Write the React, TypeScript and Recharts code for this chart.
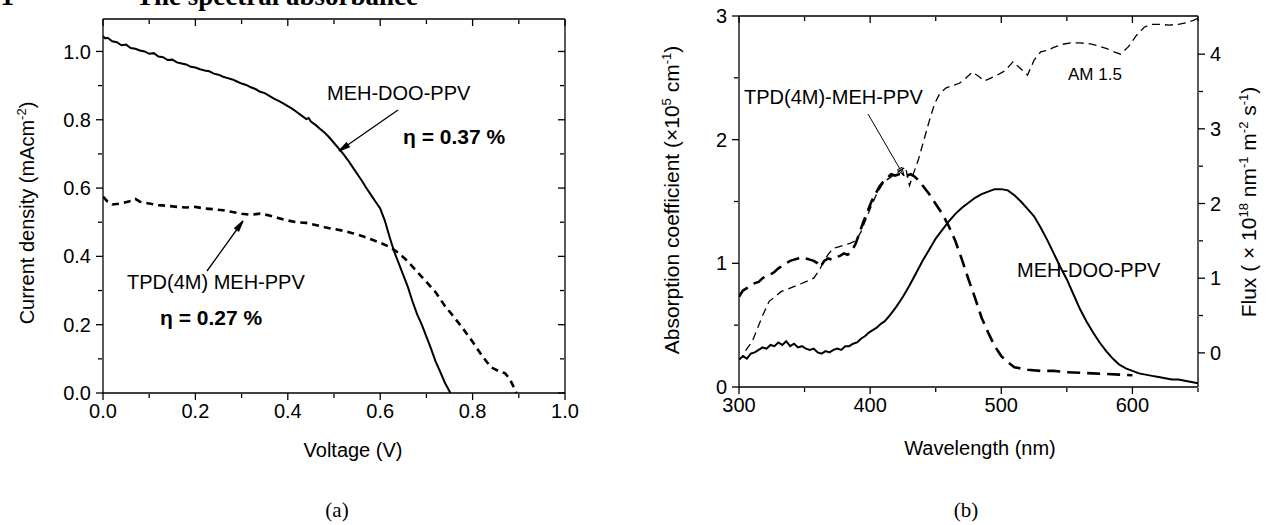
import React from "react"
import { Line, LineChart, XAxis, YAxis } from "recharts"

// (a) J-V curves
const dooVoltage = [0, 0.005, 0.01, 0.02, 0.03, 0.04, 0.05, 0.06, 0.07, 0.08, 0.09, 0.1, 0.11, 0.12, 0.13, 0.14, 0.15, 0.16, 0.17, 0.18, 0.19, 0.2, 0.21, 0.22, 0.23, 0.24, 0.25, 0.26, 0.27, 0.28, 0.29, 0.3, 0.31, 0.32, 0.33, 0.34, 0.35, 0.36, 0.37, 0.38, 0.39, 0.4, 0.41, 0.42, 0.43, 0.44, 0.445, 0.45, 0.46, 0.47, 0.48, 0.49, 0.5, 0.51, 0.52, 0.53, 0.54, 0.55, 0.56, 0.57, 0.58, 0.59, 0.6, 0.61, 0.62, 0.63, 0.64, 0.65, 0.66, 0.67, 0.68, 0.69, 0.7, 0.71, 0.72, 0.73, 0.74, 0.75, 0.752]
const dooCurrent = [1.045, 1.038, 1.04, 1.03, 1.027, 1.018, 1.02, 1.01, 1.008, 1.003, 1.0, 0.993, 0.995, 0.985, 0.983, 0.975, 0.976, 0.968, 0.965, 0.962, 0.955, 0.953, 0.948, 0.944, 0.942, 0.935, 0.932, 0.926, 0.922, 0.918, 0.912, 0.906, 0.902, 0.895, 0.89, 0.882, 0.878, 0.87, 0.862, 0.855, 0.848, 0.84, 0.832, 0.822, 0.812, 0.802, 0.805, 0.795, 0.785, 0.773, 0.762, 0.748, 0.732, 0.716, 0.7, 0.682, 0.662, 0.642, 0.622, 0.6, 0.58, 0.56, 0.54, 0.505, 0.458, 0.415, 0.38, 0.345, 0.31, 0.268, 0.23, 0.2, 0.165, 0.13, 0.092, 0.062, 0.03, 0.005, 0]
const tpdVoltage = [0, 0.01, 0.02, 0.04, 0.06, 0.07, 0.08, 0.1, 0.12, 0.14, 0.16, 0.18, 0.2, 0.22, 0.24, 0.26, 0.28, 0.3, 0.32, 0.34, 0.36, 0.38, 0.4, 0.42, 0.44, 0.46, 0.48, 0.5, 0.52, 0.54, 0.56, 0.58, 0.6, 0.62, 0.64, 0.66, 0.68, 0.7, 0.72, 0.74, 0.76, 0.78, 0.8, 0.82, 0.84, 0.86, 0.87, 0.88, 0.89, 0.895]
const tpdCurrent = [0.575, 0.56, 0.552, 0.555, 0.562, 0.568, 0.56, 0.555, 0.55, 0.548, 0.545, 0.543, 0.545, 0.54, 0.538, 0.535, 0.53, 0.525, 0.522, 0.525, 0.52, 0.512, 0.505, 0.5, 0.498, 0.492, 0.485, 0.48, 0.475, 0.468, 0.46, 0.45, 0.44, 0.428, 0.41, 0.385, 0.355, 0.325, 0.295, 0.255, 0.222, 0.187, 0.15, 0.11, 0.075, 0.062, 0.058, 0.042, 0.015, 0]

// (b) absorption spectra and AM 1.5 photon flux
const dooWavelength = [300, 303, 306, 309, 312, 315, 318, 321, 324, 327, 330, 333, 336, 339, 342, 345, 348, 351, 354, 357, 360, 363, 366, 369, 372, 375, 378, 381, 384, 387, 390, 393, 396, 399, 402, 405, 408, 411, 415, 420, 425, 430, 435, 440, 445, 450, 455, 460, 465, 470, 475, 480, 485, 490, 495, 500, 505, 510, 515, 520, 525, 530, 535, 540, 545, 550, 555, 560, 565, 570, 575, 580, 585, 590, 595, 600, 605, 610, 615, 620, 625, 630, 635, 640, 645, 650]
const dooAbsorption = [0.22, 0.25, 0.23, 0.27, 0.28, 0.3, 0.32, 0.31, 0.34, 0.33, 0.36, 0.34, 0.37, 0.33, 0.35, 0.32, 0.33, 0.31, 0.3, 0.31, 0.28, 0.27, 0.29, 0.28, 0.3, 0.31, 0.3, 0.33, 0.33, 0.35, 0.36, 0.39, 0.41, 0.44, 0.46, 0.48, 0.51, 0.53, 0.58, 0.65, 0.73, 0.82, 0.92, 1.02, 1.11, 1.2, 1.27, 1.34, 1.4, 1.45, 1.49, 1.53, 1.56, 1.58, 1.6, 1.6, 1.59, 1.55, 1.5, 1.44, 1.38, 1.29, 1.19, 1.08, 0.97, 0.87, 0.75, 0.63, 0.53, 0.44, 0.36, 0.29, 0.23, 0.18, 0.15, 0.13, 0.11, 0.1, 0.09, 0.08, 0.07, 0.06, 0.06, 0.05, 0.04, 0.03]
const tpdWavelength = [300, 303, 306, 309, 312, 315, 318, 321, 324, 327, 330, 333, 336, 339, 342, 345, 348, 351, 354, 357, 360, 362, 365, 368, 371, 374, 377, 380, 383, 386, 389, 392, 395, 398, 401, 404, 407, 410, 413, 416, 419, 422, 425, 428, 431, 434, 437, 440, 445, 450, 455, 460, 465, 470, 475, 480, 485, 490, 495, 500, 505, 510, 515, 520, 530, 540, 550, 560, 570, 580, 590, 600]
const tpdAbsorption = [0.73, 0.78, 0.8, 0.82, 0.84, 0.85, 0.88, 0.9, 0.91, 0.93, 0.96, 0.98, 1.0, 1.02, 1.03, 1.04, 1.05, 1.04, 1.03, 1.02, 1.0, 0.97, 1.02, 1.04, 1.03, 1.05, 1.06, 1.08, 1.07, 1.1, 1.16, 1.25, 1.34, 1.42, 1.5, 1.56, 1.62, 1.66, 1.69, 1.72, 1.71, 1.72, 1.72, 1.71, 1.72, 1.7, 1.67, 1.63, 1.56, 1.48, 1.4, 1.3, 1.18, 1.03, 0.87, 0.72, 0.56, 0.44, 0.33, 0.25, 0.2, 0.16, 0.15, 0.14, 0.13, 0.13, 0.12, 0.115, 0.11, 0.105, 0.1, 0.095]
const am15Wavelength = [305, 310, 313, 318, 323, 328, 332, 338, 345, 352, 357, 361, 364, 368, 372, 376, 380, 385, 389, 393, 397, 401, 405, 409, 413, 417, 422, 427, 430, 433, 437, 441, 445, 449, 453, 458, 463, 468, 473, 478, 483, 487, 492, 497, 503, 509, 515, 520, 525, 530, 535, 540, 546, 553, 560, 567, 574, 581, 586, 591, 597, 603, 609, 614, 620, 628, 635, 641, 646, 650]
const am15Flux = [0.03, 0.15, 0.28, 0.5, 0.69, 0.76, 0.82, 0.86, 0.91, 0.96, 1.0, 1.1, 1.2, 1.32, 1.4, 1.42, 1.44, 1.47, 1.5, 1.62, 1.8, 1.97, 2.13, 2.25, 2.32, 2.37, 2.43, 2.49, 2.24, 2.4, 2.6, 2.85, 3.1, 3.33, 3.47, 3.55, 3.58, 3.61, 3.68, 3.76, 3.7, 3.64, 3.68, 3.72, 3.78, 3.9, 3.8, 3.72, 3.92, 4.03, 4.05, 4.09, 4.13, 4.15, 4.15, 4.14, 4.11, 4.07, 4.03, 4.0, 4.1, 4.25, 4.36, 4.4, 4.4, 4.39, 4.4, 4.42, 4.45, 4.48]

// ticks
const voltageTicks = [0, 0.2, 0.4, 0.6, 0.8, 1.0]
const voltageMinor = [0.1, 0.3, 0.5, 0.7, 0.9]
const currentTicks = [0, 0.2, 0.4, 0.6, 0.8, 1.0]
const currentMinor = [0.1, 0.3, 0.5, 0.7, 0.9]
const waveTicks = [300, 400, 500, 600]
const waveMinor = [350, 450, 550, 650]
const absTicks = [0, 1, 2, 3]
const absMinor = [0.5, 1.5, 2.5]
const fluxTicks = [0, 1, 2, 3, 4]
const fluxMinor = [0.5, 1.5, 2.5, 3.5]

const zip = (xs: number[], ys: number[]) => xs.map((x, i) => ({ x, y: ys[i] }))

const dooJV = zip(dooVoltage, dooCurrent)
const tpdJV = zip(tpdVoltage, tpdCurrent)
const dooAbs = zip(dooWavelength, dooAbsorption)
const tpdAbs = zip(tpdWavelength, tpdAbsorption)
const am15 = zip(am15Wavelength, am15Flux)

const SANS = "'Liberation Sans', Arial, sans-serif"
const SERIF = "'Liberation Serif', 'Times New Roman', serif"
const tickText = { fill: "#000", fontSize: 20, fontFamily: SANS }
const line = { stroke: "#000", strokeWidth: 1.3 }
const blank = () => ""

// major + minor axis for one side; each axis takes 1px (recharts skips 0-size axes)
function xAxes(id: string, domain: number[], major: number[], minor: number[], top: boolean, fmt?: (v: number) => string) {
  const common = {
    type: "number" as const,
    dataKey: "x",
    domain,
    allowDataOverflow: true,
    interval: 0 as const,
    height: 1,
    orientation: top ? ("top" as const) : ("bottom" as const),
    mirror: top,
    tickLine: line,
  }
  return [
    <XAxis key={id} xAxisId={id} {...common} ticks={major} tickSize={7} tickMargin={4}
      axisLine={line} tick={tickText} tickFormatter={fmt || blank} />,
    <XAxis key={id + "m"} xAxisId={id + "m"} {...common} ticks={minor} tickSize={4}
      axisLine={false} tickFormatter={blank} />,
  ]
}

function yAxes(id: string, domain: number[], major: number[], minor: number[], side: "left" | "right", mirror: boolean, fmt?: (v: number) => string) {
  const common = {
    type: "number" as const,
    domain,
    allowDataOverflow: true,
    interval: 0 as const,
    width: 1,
    orientation: side,
    mirror,
    tickLine: line,
  }
  return [
    <YAxis key={id} yAxisId={id} {...common} ticks={major} tickSize={7} tickMargin={5}
      axisLine={line} tick={tickText} tickFormatter={fmt || blank} />,
    <YAxis key={id + "m"} yAxisId={id + "m"} {...common} ticks={minor} tickSize={4}
      axisLine={false} tickFormatter={blank} />,
  ]
}

function Arrow({ x1, y1, x2, y2, head = 11, spread = 0.22, w = 1.3, filled = true }: any) {
  const a = Math.atan2(y2 - y1, x2 - x1) + Math.PI
  const p1 = `${x2 + head * Math.cos(a - spread)},${y2 + head * Math.sin(a - spread)}`
  const p2 = `${x2 + head * Math.cos(a + spread)},${y2 + head * Math.sin(a + spread)}`
  return (
    <g stroke="#000" strokeWidth={w}>
      <line x1={x1} y1={y1} x2={x2} y2={y2} />
      <polygon points={`${p1} ${x2},${y2} ${p2}`} fill={filled ? "#000" : "none"} />
    </g>
  )
}

// text runs with superscripts: [normal, sup, normal, sup, ...]
function Runs({ parts, sup = 13 }: { parts: string[]; sup?: number }) {
  return (
    <>
      {parts.map((p, i) =>
        i % 2 === 1 ? (
          <tspan key={i} dy={-8} fontSize={sup}>{p}</tspan>
        ) : (
          <tspan key={i} dy={i > 0 ? 8 : 0}>{p}</tspan>
        )
      )}
    </>
  )
}

function PanelA() {
  return (
    <LineChart width={620} height={525} margin={{ top: 19, right: 55, bottom: 130, left: 101 }}>
      {xAxes("xb", [0, 1], voltageTicks, voltageMinor, false, (v) => v.toFixed(1))}
      {xAxes("xt", [0, 1], voltageTicks, voltageMinor, true)}
      {yAxes("yl", [0, 1.095], currentTicks, currentMinor, "left", false, (v) => v.toFixed(1))}
      {yAxes("yr", [0, 1.095], currentTicks, currentMinor, "right", true)}
      <Line xAxisId="xb" yAxisId="yl" data={dooJV} dataKey="y" stroke="#000" strokeWidth={2}
        dot={false} isAnimationActive={false} />
      <Line xAxisId="xb" yAxisId="yl" data={tpdJV} dataKey="y" stroke="#000" strokeWidth={2.6}
        strokeDasharray="7 5" dot={false} isAnimationActive={false} />
    </LineChart>
  )
}

function PanelB() {
  return (
    <LineChart width={638} height={525} margin={{ top: 16, right: 68, bottom: 136, left: 107 }}>
      {xAxes("xb", [300, 650], waveTicks, waveMinor, false, (v) => String(v))}
      {xAxes("xt", [300, 650], waveTicks, waveMinor, true)}
      {yAxes("yl", [0, 3], absTicks, absMinor, "left", false, (v) => String(v))}
      {yAxes("yr", [-0.457, 4.511], fluxTicks, fluxMinor, "right", false, (v) => String(v))}
      <Line xAxisId="xb" yAxisId="yr" data={am15} dataKey="y" stroke="#000" strokeWidth={1.3}
        strokeDasharray="8 5" dot={false} isAnimationActive={false} />
      <Line xAxisId="xb" yAxisId="yl" data={tpdAbs} dataKey="y" stroke="#000" strokeWidth={2.6}
        strokeDasharray="13 7" dot={false} isAnimationActive={false} />
      <Line xAxisId="xb" yAxisId="yl" data={dooAbs} dataKey="y" stroke="#000" strokeWidth={2}
        dot={false} isAnimationActive={false} />
    </LineChart>
  )
}

function Annotations() {
  return (
    <svg width={1268} height={525} style={{ position: "absolute", left: 0, top: 0, pointerEvents: "none" }}>
      <g fontFamily={SERIF} fontWeight="bold" fontSize={27}>
        <text x={14} y={5} textAnchor="end">4.4.1</text>
        <text x={136} y={5}>The spectral absorbance</text>
      </g>
      <g fontFamily={SANS} fontSize={20} fill="#000">
        {/* panel (a) */}
        <text x={327} y={100}>MEH-DOO-PPV</text>
        <text x={403} y={144} fontWeight="bold" fontSize={21}>η = 0.37 %</text>
        <text x={127} y={289}>TPD(4M) MEH-PPV</text>
        <text x={160} y={325} fontWeight="bold" fontSize={21}>η = 0.27 %</text>
        <text x={353} y={457} textAnchor="middle">Voltage (V)</text>
        <text x={34} y={213} textAnchor="middle" transform="rotate(-90 34 213)">
          <Runs parts={["Current density (mAcm", "-2", ")"]} />
        </text>
        {/* panel (b) */}
        <text x={744} y={104}>TPD(4M)-MEH-PPV</text>
        <text x={1068} y={80} fontSize={17}>AM 1.5</text>
        <text x={1017} y={277}>MEH-DOO-PPV</text>
        <text x={980} y={455} textAnchor="middle">Wavelength (nm)</text>
        <text x={679} y={200} textAnchor="middle" fontSize={21} transform="rotate(-90 679 200)">
          <Runs parts={["Absorption coefficient (×10", "5", " cm", "-1", ")"]} />
        </text>
        <text x={1256} y={202} textAnchor="middle" fontSize={21} transform="rotate(-90 1256 202)">
          <Runs parts={["Flux ( × 10", "18", " nm", "-1", " m", "-2", " s", "-1", ")"]} />
        </text>
      </g>
      <g fontFamily={SERIF} fontSize={21} fill="#000" textAnchor="middle">
        <text x={337} y={517}>(a)</text>
        <text x={966} y={517}>(b)</text>
      </g>
      <Arrow x1={398} y1={110} x2={339} y2={151} />
      <Arrow x1={207} y1={271} x2={243} y2={221} />
      <Arrow x1={868} y1={114} x2={904} y2={176} head={9} spread={0.3} w={1} filled={false} />
    </svg>
  )
}

export default function App() {
  return (
    <div style={{ position: "absolute", left: 0, top: 0, width: 1268, height: 525, background: "#fff" }}>
      <div style={{ position: "absolute", left: 0, top: 0 }}>
        <PanelA />
      </div>
      <div style={{ position: "absolute", left: 630, top: 0 }}>
        <PanelB />
      </div>
      <Annotations />
    </div>
  )
}
